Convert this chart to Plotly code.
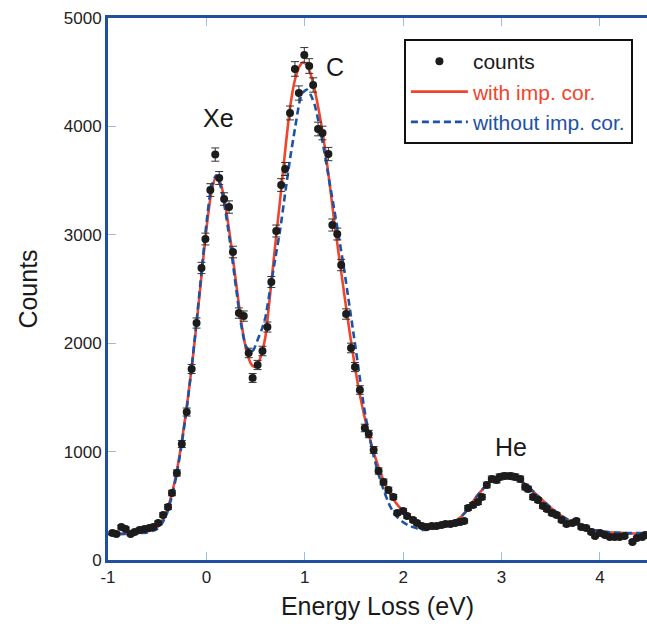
import plotly.graph_objects as go

# ---- measured counts ----
energy = [-0.955, -0.915, -0.865, -0.82, -0.77, -0.73, -0.68, -0.63, -0.58, -0.54,
          -0.49, -0.44, -0.39, -0.35, -0.30, -0.25, -0.20, -0.15, -0.10, -0.05,
          -0.01, 0.04, 0.09, 0.13, 0.18, 0.23, 0.27, 0.33, 0.38, 0.43,
          0.47, 0.52, 0.57, 0.62, 0.66, 0.71, 0.76, 0.80, 0.85, 0.90,
          0.94, 0.995, 1.045, 1.085, 1.135, 1.18, 1.24, 1.28, 1.33, 1.37,
          1.42, 1.47, 1.51, 1.56, 1.61, 1.65, 1.70, 1.75, 1.80, 1.85,
          1.90, 1.94, 2.00, 2.04, 2.10, 2.14, 2.19, 2.24, 2.29, 2.34,
          2.39, 2.43, 2.48, 2.53, 2.58, 2.62, 2.66, 2.71, 2.76, 2.80,
          2.85, 2.90, 2.95, 2.98, 3.03, 3.09, 3.14, 3.19, 3.24, 3.27,
          3.32, 3.37, 3.42, 3.46, 3.51, 3.56, 3.61, 3.66, 3.72, 3.76,
          3.81, 3.86, 3.91, 3.95, 4.00, 4.05, 4.10, 4.15, 4.20, 4.25,
          4.33, 4.375, 4.43, 4.46]
counts = [249, 240, 304, 286, 240, 258, 277, 286, 295, 304,
          341, 415, 489, 618, 803, 1070, 1365, 1762, 2186, 2694,
          2961, 3413, 3740, 3524, 3330, 3256, 2841, 2278, 2250, 1910,
          1679, 1799, 1928, 2149, 2565, 3035, 3459, 3607, 4124, 4530,
          4308, 4659, 4557, 4382, 3976, 3939, 3745, 3090, 3007, 2721,
          2269, 1956, 1780, 1568, 1218, 1162, 1015, 821, 720, 646,
          581, 434, 452, 406, 369, 341, 314, 304, 314, 314,
          323, 332, 332, 341, 350, 360, 480, 507, 535, 581,
          692, 747, 738, 766, 775, 775, 766, 747, 673, 655,
          581, 553, 498, 470, 434, 415, 369, 332, 341, 360,
          304, 295, 258, 221, 249, 230, 212, 212, 212, 221,
          166, 203, 212, 230]

# ---- fit with impurity correction ----
fit_x = [-1.0, -0.9, -0.8, -0.7, -0.6, -0.55, -0.5, -0.45, -0.4, -0.35,
         -0.3, -0.25, -0.2, -0.15, -0.1, -0.05, 0.0, 0.05, 0.1, 0.15,
         0.2, 0.25, 0.3, 0.35, 0.4, 0.45, 0.48, 0.52, 0.56, 0.6,
         0.65, 0.7, 0.75, 0.8, 0.85, 0.9, 0.95, 0.98, 1.02, 1.06,
         1.1, 1.15, 1.2, 1.25, 1.3, 1.35, 1.4, 1.45, 1.5, 1.55,
         1.6, 1.65, 1.7, 1.75, 1.8, 1.85, 1.9, 1.95, 2.0, 2.05,
         2.1, 2.15, 2.2, 2.25, 2.3, 2.35, 2.4, 2.45, 2.5, 2.55,
         2.6, 2.65, 2.7, 2.75, 2.8, 2.85, 2.9, 2.95, 3.0, 3.05,
         3.1, 3.15, 3.2, 3.25, 3.3, 3.35, 3.4, 3.45, 3.5, 3.55,
         3.6, 3.65, 3.7, 3.75, 3.8, 3.85, 3.9, 3.95, 4.0, 4.1,
         4.2, 4.3, 4.4, 4.5]
with_cor = [240, 240, 243, 248, 262, 278, 302, 360, 460, 615,
            825, 1095, 1410, 1770, 2180, 2620, 3050, 3390, 3540, 3460,
            3230, 2920, 2570, 2220, 1960, 1815, 1785, 1805, 1900, 2060,
            2470, 2910, 3330, 3770, 4170, 4430, 4560, 4590, 4570, 4480,
            4340, 4110, 3830, 3490, 3120, 2790, 2460, 2140, 1840, 1570,
            1350, 1160, 995, 855, 735, 635, 560, 500, 455, 415,
            380, 350, 325, 312, 306, 305, 311, 323, 342, 370,
            410, 460, 528, 590, 645, 695, 735, 762, 775, 778,
            770, 752, 725, 690, 650, 608, 565, 523, 483, 447,
            413, 383, 357, 335, 315, 299, 286, 275, 267, 256,
            250, 246, 244, 243]

# ---- fit without impurity correction ----
without_cor = [240, 240, 242, 246, 255, 268, 287, 338, 432, 590,
               800, 1075, 1400, 1775, 2200, 2650, 3100, 3440, 3550, 3430,
               3180, 2870, 2520, 2190, 1975, 1920, 1940, 2030, 2120, 2240,
               2510, 2780, 3050, 3380, 3700, 3980, 4240, 4310, 4340, 4290,
               4200, 4000, 3760, 3490, 3230, 2960, 2680, 2370, 2060, 1740,
               1420, 1170, 960, 790, 650, 530, 440, 385, 348, 322,
               303, 288, 278, 280, 287, 297, 310, 324, 342, 370,
               410, 460, 528, 590, 645, 695, 735, 762, 775, 778,
               770, 752, 725, 690, 650, 608, 565, 523, 483, 447,
               413, 383, 357, 335, 315, 299, 286, 275, 267, 256,
               250, 248, 248, 248]

x_ticks = [-1, 0, 1, 2, 3, 4]
x_tick_labels = ["-1", "0", "1", "2", "3", "4"]
y_ticks = [0, 1000, 2000, 3000, 4000, 5000]
y_tick_labels = ["0", "1000", "2000", "3000", "4000", "5000"]

peak_names = ["Xe", "C", "He"]
peak_x = [0.12, 1.31, 3.1]
peak_y = [4080, 4550, 1045]

RED = "#f0452a"
BLUE = "#1e52a6"
AXIS = "#1f4f9e"
TICK = "#9dbbe3"
FONT = "Liberation Sans, Arial, Helvetica, sans-serif"

fig = go.Figure()
fig.add_trace(go.Scatter(
    x=fit_x, y=with_cor, mode="lines", legendrank=2,
    line=dict(color=RED, width=2.6, shape="spline", smoothing=0.6),
    name="<span style='color:%s'>with imp. cor.</span>" % RED))
fig.add_trace(go.Scatter(
    x=fit_x, y=without_cor, mode="lines", legendrank=3,
    line=dict(color=BLUE, width=2.6, dash="7px,4px", shape="spline", smoothing=0.6),
    name="<span style='color:%s'>without imp. cor.</span>" % BLUE))
fig.add_trace(go.Scatter(
    x=energy, y=counts, mode="markers", legendrank=1,
    marker=dict(color="#1c1c1c", size=8),
    error_y=dict(type="sqrt", color="#333333", thickness=1, width=4),
    name="counts"))

for name, px, py in zip(peak_names, peak_x, peak_y):
    fig.add_annotation(x=px, y=py, text=name, showarrow=False,
                       font=dict(size=25, color="#1a1a1a", family=FONT))

fig.update_layout(
    width=647, height=633,
    margin=dict(l=108, r=0, t=18, b=73),
    paper_bgcolor="white", plot_bgcolor="white",
    font=dict(family=FONT, color="#222222"),
    showlegend=True,
    legend=dict(x=0.549, y=0.961, xanchor="left", yanchor="top",
                bordercolor="#111111", borderwidth=2, bgcolor="white",
                font=dict(size=21, family=FONT, color="#1a1a1a"),
                itemwidth=57, tracegroupgap=0),
    xaxis=dict(range=[-1, 4.478], tickvals=x_ticks, ticktext=x_tick_labels,
               ticks="inside", ticklen=8, tickwidth=1, tickcolor=TICK,
               showline=True, linecolor=AXIS, linewidth=3, mirror="ticks",
               showgrid=False, zeroline=False,
               tickfont=dict(size=17, color="#222222"),
               title=dict(text="Energy Loss (eV)", font=dict(size=25, color="#1a1a1a"), standoff=12)),
    yaxis=dict(range=[0, 5000], tickvals=y_ticks, ticktext=y_tick_labels,
               ticks="inside", ticklen=8, tickwidth=1, tickcolor=TICK,
               showline=True, linecolor=AXIS, linewidth=3, mirror=False,
               showgrid=False, zeroline=False,
               tickfont=dict(size=17, color="#222222"),
               title=dict(text="Counts", font=dict(size=25, color="#1a1a1a"), standoff=20)),
)

fig.write_html("out.html",
               config={"displayModeBar": False},
               post_script="document.body.style.margin='0';document.body.style.overflow='hidden';")
